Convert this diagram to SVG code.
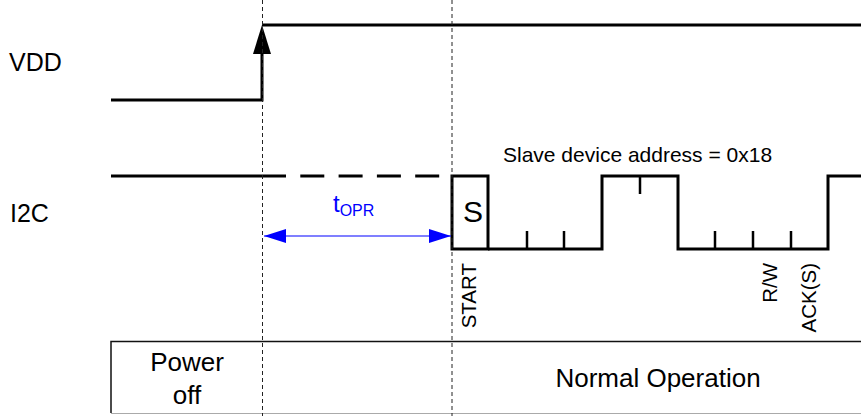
<svg xmlns="http://www.w3.org/2000/svg" width="861" height="416" viewBox="0 0 861 416">
  <style>
    text { font-family: "Liberation Sans", Arial, sans-serif; fill: #000; }
    .lbl { font-size: 25px; }
    .bar { font-size: 26px; }
    .sig { fill: none; stroke: #000; stroke-width: 3; stroke-linecap: butt; stroke-linejoin: miter; }
    .tick { stroke: #000; stroke-width: 2.5; }
    .guide { stroke: #222; stroke-width: 1; stroke-dasharray: 4 3; }
    .small { font-size: 20.5px; }
    .blue { fill: #0000ff; }
  </style>
  <defs>
    <marker id="bhead" viewBox="0 0 22 14" refX="22" refY="7" markerWidth="22" markerHeight="14" markerUnits="userSpaceOnUse" orient="auto-start-reverse">
      <path d="M0,0 L22,7 L0,14 Z" fill="#0000ff"/>
    </marker>
  </defs>
  <rect width="861" height="416" fill="#fff"/>

  <g id="vdd-label"><text class="lbl" x="9" y="71">VDD</text></g>
  <g id="i2c-label"><text class="lbl" x="10" y="221.5">I2C</text></g>

  <g id="vdd-signal">
    <path class="sig" d="M111,100 H262 V50"/>
    <path class="sig" d="M262,25 H861"/>
    <polygon points="262,25 253,54 271,54" fill="#000"/>
  </g>

  <g id="i2c-signal">
    <path class="sig" d="M111,176 H262"/>
    <path class="sig" d="M262,176 H447" stroke-dasharray="24 14.3"/>
    <path class="sig" d="M452,249 V176 H488 V249 Z"/>
    <path class="sig" d="M488,249 H602 V176 H678 V249 H828 V176 H861"/>
    <line class="tick" x1="527" y1="249" x2="527" y2="231"/>
    <line class="tick" x1="564" y1="249" x2="564" y2="231"/>
    <line class="tick" x1="640" y1="176" x2="640" y2="194"/>
    <line class="tick" x1="715" y1="249" x2="715" y2="231"/>
    <line class="tick" x1="753" y1="249" x2="753" y2="231"/>
    <line class="tick" x1="791" y1="249" x2="791" y2="231"/>
    <text x="473" y="222" font-size="30" text-anchor="middle">S</text>
    <text x="503" y="162" font-size="21">Slave device address = 0x18</text>
  </g>

  <g id="bit-labels">
    <text class="small" transform="translate(476,263) rotate(-90)" text-anchor="end">START</text>
    <text class="small" transform="translate(777,263) rotate(-90)" text-anchor="end">R/W</text>
    <text class="small" transform="translate(816,263) rotate(-90)" text-anchor="end">ACK(S)</text>
  </g>

  <g id="phase-bar">
    <path d="M111,413 V341.5 H861" fill="none" stroke="#111" stroke-width="1.5"/>
    <line x1="111" y1="413.5" x2="861" y2="413.5" stroke="#aaa" stroke-width="1"/>
    <text class="bar" x="187" y="371" text-anchor="middle">Power</text>
    <text class="bar" x="187" y="404" text-anchor="middle">off</text>
    <text class="bar" x="658" y="387" text-anchor="middle">Normal Operation</text>
  </g>

  <g id="connectors">
    <line class="guide" x1="262.5" y1="0" x2="262.5" y2="416"/>
    <line class="guide" x1="452" y1="0" x2="452" y2="416"/>
    <line x1="264" y1="236" x2="451" y2="236" stroke="#0000ff" stroke-width="1.2" marker-start="url(#bhead)" marker-end="url(#bhead)"/>
    <text class="blue" x="333" y="212" font-size="24">t<tspan font-size="16" dy="4">OPR</tspan></text>
  </g>
</svg>
